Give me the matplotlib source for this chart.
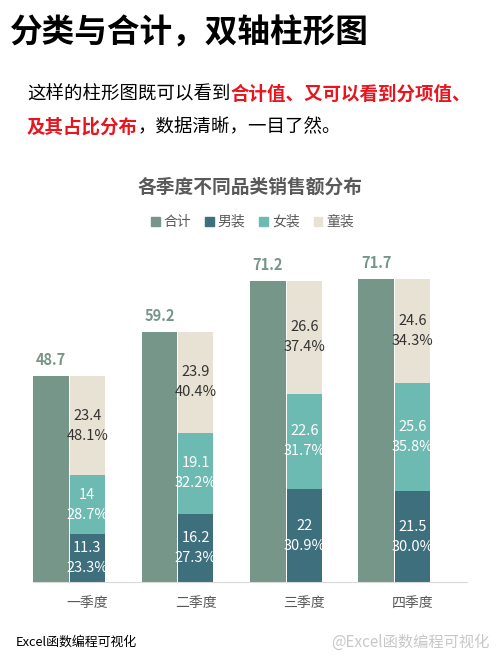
import matplotlib
matplotlib.use('Agg')
import matplotlib.pyplot as plt
from matplotlib.patches import Patch
import numpy as np

plt.rcParams['font.family'] = ['Noto Sans CJK SC', 'DejaVu Sans']

# ---- data ----
quarters = ['一季度', '二季度', '三季度', '四季度']
series_names = ['合计', '男装', '女装', '童装']
total = [48.7, 59.2, 71.2, 71.7]
men = [11.3, 16.2, 22, 21.5]
women = [14, 19.1, 22.6, 25.6]
kids = [23.4, 23.9, 26.6, 24.6]
men_pct = ['23.3%', '27.3%', '30.9%', '30.0%']
women_pct = ['28.7%', '32.2%', '31.7%', '35.8%']
kids_pct = ['48.1%', '40.4%', '37.4%', '34.3%']

c_total = '#759688'
c_men = '#3D6F7C'
c_women = '#6DBAB3'
c_kids = '#E8E2D4'
gray = '#595959'

fig = plt.figure(figsize=(5, 6.67), dpi=100)
W, H = 500, 667

ax = fig.add_axes([33 / W, (H - 582) / H, 434 / W, 338 / H])
x = np.arange(len(quarters))
ax.bar(x - 0.335, total, width=0.33, color=c_total)
b = np.zeros(len(quarters))
for vals, pcts, col, tcol in [(men, men_pct, c_men, 'white'),
                              (women, women_pct, c_women, 'white'),
                              (kids, kids_pct, c_kids, '#333333')]:
    ax.bar(x, vals, width=0.32, bottom=b, color=col)
    for i, (v, p) in enumerate(zip(vals, pcts)):
        ax.text(x[i], b[i] + v / 2, f'{v:g}\n{p}', ha='center', va='center',
                color=tcol, fontsize=10.5, linespacing=1.55)
    b = b + np.array(vals)

for i, t in enumerate(total):
    ax.annotate(f'{t:g}', (x[i] - 0.335, t), xytext=(0, 6), textcoords='offset points',
                ha='center', va='bottom', color=c_total, fontsize=10.5, fontweight='bold')

ax.set_xlim(-0.5, 3.5)
ax.set_ylim(0, 80)
for s in ['top', 'right', 'left']:
    ax.spines[s].set_visible(False)
ax.spines['bottom'].set_color('#d9d9d9')
ax.set_yticks([])
ax.set_xticks(x)
ax.set_xticklabels(quarters)
ax.tick_params(axis='x', length=0, pad=10, labelsize=10, labelcolor=gray)

# legend
handles = [Patch(color=c) for c in [c_total, c_men, c_women, c_kids]]
fig.legend(handles, series_names, loc='center', bbox_to_anchor=(0.505, 1 - 222 / H),
           ncol=4, frameon=False, fontsize=10, handlelength=0.6, handleheight=0.6,
           handletextpad=0.3, columnspacing=1.0, labelcolor=gray)

# chart title
fig.text(0.5, 1 - 187 / H, '各季度不同品类销售额分布', ha='center', va='center',
         fontsize=13.5, fontweight='bold', color=gray)

# header
fig.text(10 / W, 1 - 33 / H, '分类与合计，双轴柱形图', ha='left', va='center',
         fontsize=23.5, fontweight='bold', color='black')

renderer = fig.canvas.get_renderer()


def rich_line(parts, x0, y, size):
    xp = x0
    for s, col, wt in parts:
        t = fig.text(xp / W, y, s, ha='left', va='center', fontsize=size,
                     color=col, fontweight=wt)
        bb = t.get_window_extent(renderer)
        xp = bb.x1 * W / fig.bbox.width


red = '#E8141E'
rich_line([('这样的柱形图既可以看到', 'black', 'normal'),
           ('合计值、又可以看到分项值、', red, 'bold')], 27, 1 - 94 / H, 13.3)
rich_line([('及其占比分布', red, 'bold'),
           ('，数据清晰，一目了然。', 'black', 'normal')], 27, 1 - 127 / H, 13.3)

# footer
fig.text(16 / W, 1 - 642 / H, 'Excel函数编程可视化', ha='left', va='center',
         fontsize=9.3, color='black')
fig.text(490 / W, 1 - 642 / H, '@Excel函数编程可视化', ha='right', va='center',
         fontsize=11, color='#c8c8c8')

fig.savefig('out.png', dpi=100)
